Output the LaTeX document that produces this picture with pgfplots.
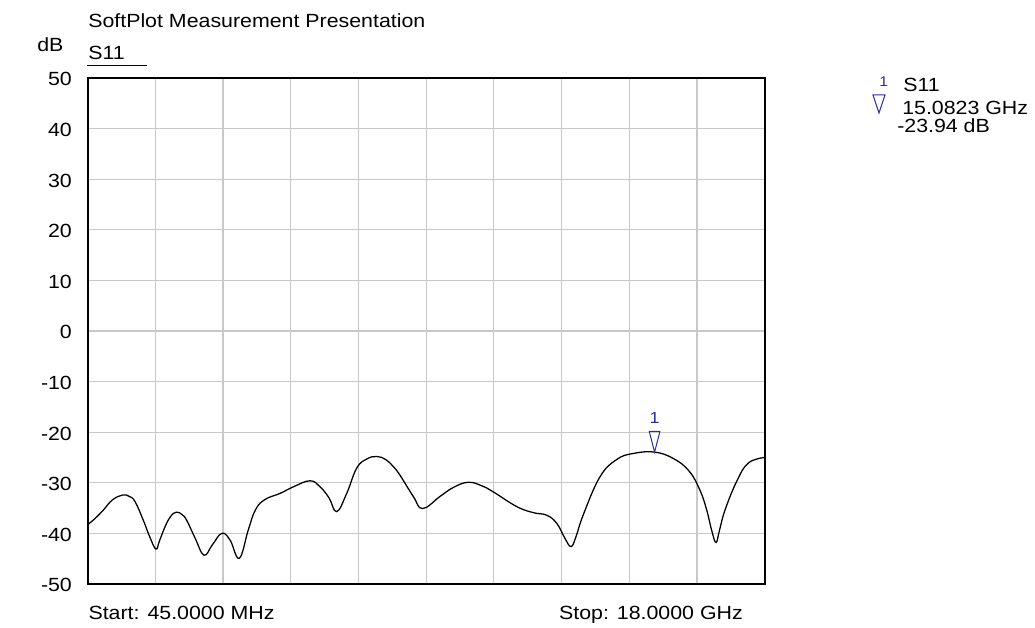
\documentclass[border=0pt]{standalone}
\usepackage{fontspec}
\setmainfont{Liberation Sans}[FakeStretch=1.12]
\usepackage{pgfplots}
\pgfplotsset{compat=1.18}
\definecolor{mkblue}{RGB}{45,45,160}
\definecolor{gridgray}{RGB}{200,200,200}
\pgfdeclareplotmark{mkr}{%
  \pgfpathmoveto{\pgfpointorigin}%
  \pgfpathlineto{\pgfpoint{-4pt}{15.5pt}}%
  \pgfpathlineto{\pgfpoint{4pt}{15.5pt}}%
  \pgfpathclose\pgfusepathqstroke}
\newcommand{\mf}{\fontsize{14.3}{17}\selectfont}
\begin{document}
\begin{tikzpicture}
\begin{axis}[
  at={(0,0)}, anchor=south west, scale only axis,
  width=507.75pt, height=379.5pt,
  xmin=0.045, xmax=18, ymin=-50, ymax=50,
  xtick={0.045,1.8405,3.636,5.4315,7.227,9.0225,10.818,12.6135,14.409,16.2045,18},
  xticklabels={},
  ytick={-50,-40,-30,-20,-10,0,10,20,30,40,50},
  yticklabels={-50,-40,-30,-20,-10,0,10,20,30,40,50},
  grid=major, major grid style={gridgray, line width=0.9pt},
  major tick length=0pt,
  axis line style={line width=1.4pt},
  yticklabel style={anchor=east, inner sep=0pt, xshift=-11.6pt, yshift=-1pt, font=\mf},
]
\addplot[black, line width=0.95pt, smooth, tension=0.7] coordinates {
(0.045,-38.3) (0.25,-37.0) (0.461,-35.4) (0.70,-33.4) (0.976,-32.4) (1.15,-32.7)
(1.302,-33.7) (1.522,-37.4) (1.70,-40.8) (1.859,-43.1) (1.95,-41.5) (2.098,-38.7)
(2.25,-36.6) (2.408,-35.8) (2.55,-36.3) (2.673,-37.4) (2.90,-41.0) (3.132,-44.3)
(3.35,-42.3) (3.602,-40.0) (3.822,-41.3) (4.068,-44.9) (4.307,-39.3) (4.50,-35.3)
(4.75,-33.3) (5.148,-32.1) (5.501,-30.8) (5.943,-29.6) (6.209,-30.8) (6.45,-33.0)
(6.652,-35.7) (6.917,-32.1) (7.182,-27.1) (7.45,-25.3) (7.712,-24.8) (7.95,-25.4)
(8.153,-26.8) (8.33,-28.5) (8.683,-32.7) (8.93,-35.1) (9.391,-32.7) (9.75,-30.9)
(10.142,-29.9) (10.5,-30.6) (10.805,-31.8) (11.426,-34.7) (11.866,-35.9) (12.221,-36.4)
(12.487,-38.0) (12.7,-40.9) (12.866,-42.6) (13.0,-40.6) (13.192,-36.3) (13.635,-28.8)
(14.078,-25.4) (14.518,-24.2) (15.0823,-23.94) (15.579,-25.2) (16.0,-27.7) (16.287,-31.5)
(16.465,-35.4) (16.60,-39.5) (16.711,-41.8) (16.80,-39.5) (16.950,-35.4) (17.261,-29.7)
(17.568,-26.1) (18.0,-25.0)
};
\addplot[mkblue, only marks, mark=mkr, line width=0.75pt,
  nodes near coords={1},
  every node near coord/.style={anchor=base, inner sep=0pt, yshift=21.75pt,
    text=mkblue, font=\fontsize{12}{14}\selectfont}]
  coordinates {(15.0823,-23.94)};
\end{axis}
\begin{scope}[x=0.75pt, y=-0.75pt, shift={(-65.7pt,438pt)}]
\path (0,0) rectangle (1035,628);
\node[anchor=base west, inner sep=0pt, font=\mf] at (88,28) {SoftPlot Measurement Presentation};
\node[anchor=base west, inner sep=0pt, font=\mf] at (37,52) {dB};
\node[anchor=base west, inner sep=0pt, font=\mf] at (88,60) {S11};
\draw[line width=0.75pt] (87,66) -- (147,66);
\node[anchor=base west, inner sep=0pt, font=\mf] at (88.3,619) {Start: 45.0000 MHz};
\node[anchor=base east, inner sep=0pt, font=\mf] at (743,619) {Stop: 18.0000 GHz};
\node[anchor=base west, inner sep=0pt, font=\fontsize{10.5}{12}\selectfont, text=mkblue] at (879,87) {1};
\draw[mkblue, line width=0.75pt] (873,95) -- (885,95) -- (879,113) -- cycle;
\node[anchor=base west, inner sep=0pt, font=\mf] at (903,92) {S11};
\node[anchor=base west, inner sep=0pt, font=\mf] at (902,115) {15.0823 GHz};
\node[anchor=base west, inner sep=0pt, font=\mf] at (897,133) {-23.94 dB};
\end{scope}
\end{tikzpicture}
\end{document}
